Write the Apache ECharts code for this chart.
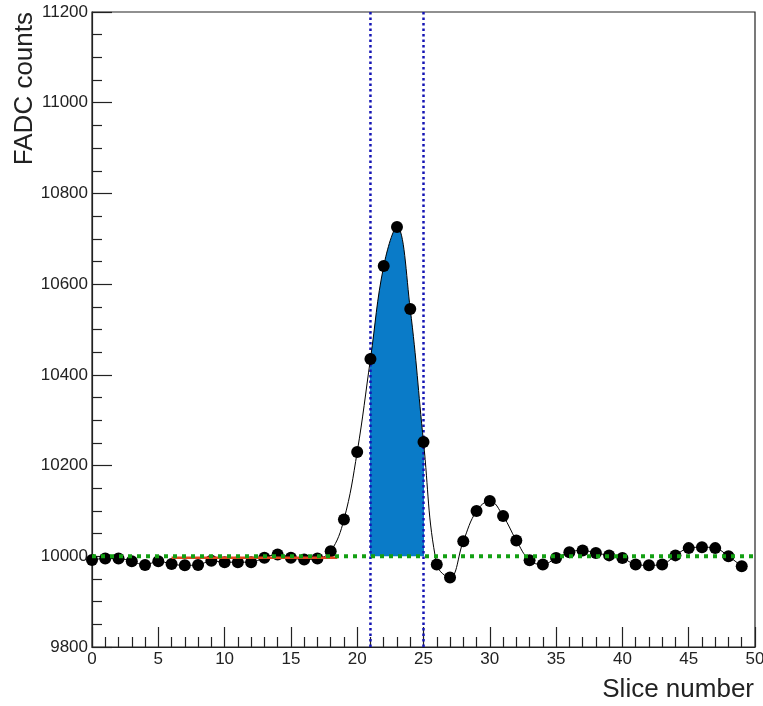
<!DOCTYPE html>
<html>
<head>
<meta charset="utf-8">
<script src="https://cdn.jsdelivr.net/npm/echarts@6/dist/echarts.min.js"></script>
<style>
  html, body { margin: 0; padding: 0; background: #fff; overflow: hidden; }
  #chart { width: 763px; height: 706px; }
</style>
</head>
<body>
<div id="chart"></div>
<script>
// FADC waveform: one sample per slice
const slices = Array.from({ length: 50 }, (_, i) => i);
const fadcCounts = [
  9992, 9995, 9995, 9989, 9981, 9989, 9983, 9980, 9981, 9990,
  9987, 9987, 9987, 9997, 10004, 9997, 9993, 9995, 10011, 10081,
  10230, 10435, 10640, 10726, 10545, 10252, 9982, 9953, 10033, 10100,
  10122, 10089, 10035, 9991, 9982, 9996, 10009, 10013, 10007, 10002,
  9996, 9982, 9980, 9982, 10002, 10018, 10020, 10018, 10000, 9978
];

// Pedestal level and its fit range
const pedestal = 10000;
const pedestalFitRange = [6, 18.5];
const pedestalFitValue = 9997;

// Integration window (slice numbers)
const integrationWindow = [21, 25];

// Axis ranges
const xRange = [0, 50];
const yRange = [9800, 11200];

const FONT = '"Liberation Sans", Arial, Helvetica, sans-serif';
const INK = '#222';

const waveform = slices.map((s, i) => [s, fadcCounts[i]]);

const chart = echarts.init(document.getElementById('chart'), null, { renderer: 'canvas', width: 763, height: 706 });

chart.setOption({
  animation: false,
  backgroundColor: '#fff',
  grid: {
    left: 92, right: 8, top: 12, bottom: 59,
    outerBoundsMode: 'none',
    containLabel: false,
    show: true, borderColor: INK, borderWidth: 1.2, backgroundColor: 'transparent'
  },
  xAxis: {
    type: 'value',
    min: xRange[0], max: xRange[1], interval: 5,
    axisLine: { show: true, onZero: false, lineStyle: { color: INK, width: 1.2 } },
    axisTick: { show: true, inside: true, length: 20, lineStyle: { color: INK, width: 1.2 } },
    minorTick: { show: true, splitNumber: 5, length: 10, lineStyle: { color: INK, width: 1.2 } },
    splitLine: { show: false },
    axisLabel: { color: INK, fontSize: 17, fontFamily: FONT, margin: 4, formatter: v => String(v) }
  },
  yAxis: {
    type: 'value',
    min: yRange[0], max: yRange[1], interval: 200,
    axisLine: { show: true, onZero: false, lineStyle: { color: INK, width: 1.2 } },
    axisTick: { show: true, inside: true, length: 20, lineStyle: { color: INK, width: 1.2 } },
    minorTick: { show: true, splitNumber: 4, length: 10, lineStyle: { color: INK, width: 1.2 } },
    splitLine: { show: false },
    axisLabel: { color: INK, fontSize: 17, fontFamily: FONT, margin: 4, formatter: v => String(v) }
  },
  visualMap: {
    show: false,
    type: 'piecewise',
    seriesIndex: 0,
    dimension: 0,
    pieces: [{ gte: integrationWindow[0], lte: integrationWindow[1], color: '#0a7bc8' }],
    outOfRange: { color: 'rgba(0,0,0,0)' }
  },
  graphic: [
    {
      type: 'text', x: 25, y: 12, rotation: Math.PI / 2,
      style: { text: 'FADC counts', fontSize: 26, fontFamily: FONT, fill: INK, align: 'right', verticalAlign: 'middle' }
    },
    {
      type: 'text', x: 754, y: 690,
      style: { text: 'Slice number', fontSize: 26, fontFamily: FONT, fill: INK, align: 'right', verticalAlign: 'middle' }
    }
  ],
  series: [
    {
      // filled integral inside the window, following the waveform curve
      name: 'integral',
      type: 'line',
      data: waveform,
      smooth: 0.4,
      showSymbol: false,
      lineStyle: { width: 0 },
      areaStyle: { opacity: 1, origin: pedestal },
      silent: true,
      z: 1
    },
    {
      name: 'window start',
      type: 'line',
      data: [[integrationWindow[0], yRange[0]], [integrationWindow[0], yRange[1]]],
      showSymbol: false,
      lineStyle: { color: '#1414b4', width: 2.5, type: [2.5, 3] },
      silent: true,
      z: 2
    },
    {
      name: 'window end',
      type: 'line',
      data: [[integrationWindow[1], yRange[0]], [integrationWindow[1], yRange[1]]],
      showSymbol: false,
      lineStyle: { color: '#1414b4', width: 2.5, type: [2.5, 3] },
      silent: true,
      z: 2
    },
    {
      name: 'waveform',
      type: 'line',
      data: waveform,
      smooth: 0.4,
      symbol: 'circle',
      symbolSize: 12,
      itemStyle: { color: '#000' },
      lineStyle: { color: '#000', width: 1 },
      z: 3
    },
    {
      name: 'pedestal fit',
      type: 'line',
      data: [[pedestalFitRange[0], pedestalFitValue], [pedestalFitRange[1], pedestalFitValue]],
      showSymbol: false,
      lineStyle: { color: '#e2461e', width: 2.5 },
      silent: true,
      z: 4
    },
    {
      name: 'pedestal',
      type: 'line',
      data: [[xRange[0], pedestal], [xRange[1], pedestal]],
      showSymbol: false,
      lineStyle: { color: '#13a013', width: 4, type: [4, 5] },
      silent: true,
      z: 5
    }
  ]
});
</script>
</body>
</html>
